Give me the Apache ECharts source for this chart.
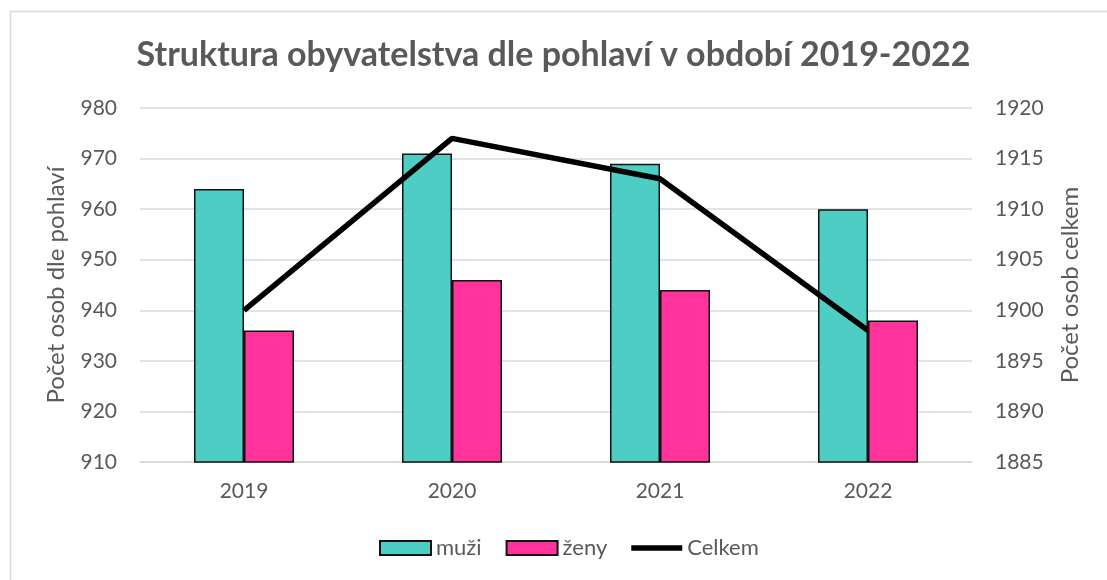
<!DOCTYPE html>
<html>
<head>
<meta charset="utf-8">
<script src="https://cdn.jsdelivr.net/npm/echarts@6/dist/echarts.min.js"></script>
<style>
  html, body { margin: 0; padding: 0; background: #fff; }
  #chart { width: 1107px; height: 580px; }
</style>
</head>
<body>
<div id="chart"></div>
<script>
const years = ['2019', '2020', '2021', '2022'];
const muzi = [964, 971, 969, 960];
const zeny = [936, 946, 944, 938];
const celkem = [1900, 1917, 1913, 1898];

const textColor = '#595959';
const font = 'Lato, "Open Sans", sans-serif';

const myChart = echarts.init(document.querySelector('#chart'));

const option = {
  animation: false,
  textStyle: { fontFamily: font, color: textColor },
  graphic: [
    {
      type: 'rect',
      left: 8,
      top: 9,
      shape: { width: 1120, height: 600 },
      style: { fill: 'none', stroke: '#d9d9d9', lineWidth: 1.5 }
    }
  ],
  title: {
    text: 'Struktura obyvatelstva dle pohlaví v období 2019-2022',
    left: 'center',
    top: 33,
    textStyle: { fontFamily: font, fontSize: 34, fontWeight: 'bold', color: textColor }
  },
  legend: {
    bottom: 16,
    left: 374,
    itemWidth: 51,
    itemHeight: 14,
    itemGap: 24,
    textStyle: { fontFamily: font, fontSize: 22, color: textColor },
    data: [
      { name: 'muži', icon: 'rect' },
      { name: 'ženy', icon: 'rect' },
      { name: 'Celkem', icon: 'path://M0,0 L56,0 L56,6 L0,6 Z' }
    ]
  },
  grid: {
    left: 140,
    right: 135,
    top: 108,
    bottom: 118
  },
  xAxis: {
    type: 'category',
    data: years,
    axisLine: { lineStyle: { color: '#d9d9d9', width: 1.5 } },
    axisTick: { show: false },
    axisLabel: { fontFamily: font, fontSize: 21, color: textColor, margin: 19 }
  },
  yAxis: [
    {
      type: 'value',
      min: 910,
      max: 980,
      interval: 10,
      name: 'Počet osob dle pohlaví',
      nameLocation: 'middle',
      nameGap: 72,
      nameTextStyle: { fontFamily: font, fontSize: 24, color: textColor },
      axisLine: { show: false },
      axisTick: { show: false },
      axisLabel: { fontFamily: font, fontSize: 21, color: textColor, margin: 23 },
      splitLine: { lineStyle: { color: '#d9d9d9', width: 1.5 } }
    },
    {
      type: 'value',
      min: 1885,
      max: 1920,
      interval: 5,
      name: 'Počet osob celkem',
      nameLocation: 'middle',
      nameGap: 86,
      nameTextStyle: { fontFamily: font, fontSize: 24, color: textColor },
      axisLine: { show: false },
      axisTick: { show: false },
      axisLabel: {
        fontFamily: font,
        fontSize: 21,
        color: textColor,
        margin: 23,
        formatter: value => String(value)
      },
      splitLine: { show: false }
    }
  ],
  series: [
    {
      name: 'muži',
      type: 'bar',
      data: muzi,
      barWidth: 50,
      barGap: '0%',
      itemStyle: { color: '#4ecdc4', borderColor: '#111', borderWidth: 1.5 }
    },
    {
      name: 'ženy',
      type: 'bar',
      data: zeny,
      barWidth: 50,
      itemStyle: { color: '#ff3399', borderColor: '#111', borderWidth: 1.5 }
    },
    {
      name: 'Celkem',
      type: 'line',
      yAxisIndex: 1,
      data: celkem,
      symbol: 'none',
      lineStyle: { color: '#000', width: 5.5 },
      itemStyle: { color: '#000' }
    }
  ]
};

myChart.setOption(option);

window.addEventListener('resize', function() {
  myChart.resize();
});
</script>
</body>
</html>
